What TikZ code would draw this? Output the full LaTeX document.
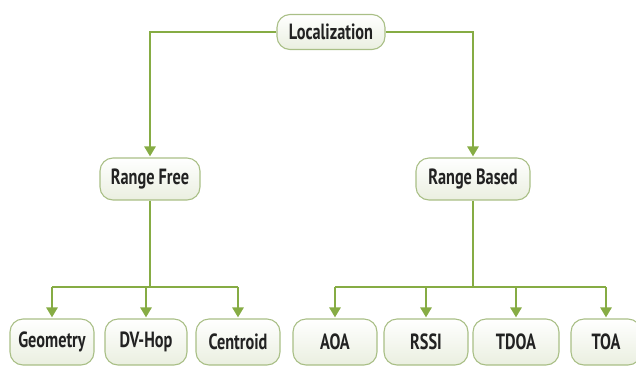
\documentclass[tikz,border=0pt]{standalone}
\usepackage{fontspec}
\setmainfont{PT Sans}[FakeStretch=0.74]
\usetikzlibrary{arrows.meta}
\definecolor{lineg}{HTML}{86AC44}
\definecolor{boxborder}{HTML}{A9BF86}
\definecolor{boxfill}{HTML}{EAEFE0}
\definecolor{txt}{HTML}{222222}
\tikzset{
  px/.style={x=1pt,y=-1pt},
  box/.style={draw=boxborder, line width=1.1pt, rounded corners=13pt, top color=white, bottom color=boxfill,
    text=txt, font=\bfseries\fontsize{22}{24}\selectfont, inner sep=0pt, anchor=center},
  conn/.style={draw=lineg, line width=2.6pt},
  arr/.style={draw=lineg, line width=2.6pt, -{Triangle[length=10pt,width=11pt]}, shorten >=1pt},
}
\begin{document}
\begin{tikzpicture}[px]
\useasboundingbox (0,0) rectangle (636,370);
\node[box, minimum width=108pt, minimum height=35pt] (loc) at (331,32) {Localization};
\node[box, minimum width=100pt, minimum height=42pt] (rf) at (150,179) {Range Free};
\node[box, minimum width=114pt, minimum height=42pt] (rb) at (473,179) {Range Based};
\node[box, minimum width=84pt, minimum height=46pt] (geo) at (52,342) {Geometry};
\node[box, minimum width=82pt, minimum height=46pt] (dv) at (146,342) {DV-Hop};
\node[box, minimum width=84pt, minimum height=46pt] (cen) at (238,342) {Centroid};
\node[box, minimum width=84pt, minimum height=46pt] (aoa) at (335,342) {AOA};
\node[box, minimum width=84pt, minimum height=46pt] (rssi) at (426,342) {RSSI};
\node[box, minimum width=86pt, minimum height=46pt] (tdoa) at (516,342) {TDOA};
\node[box, minimum width=70pt, minimum height=46pt] (toa) at (606,342) {TOA};
\coordinate (lc) at (150,32);
\draw[arr] (loc.west) -- (lc) -- (rf.north);
\draw[arr] (loc.east) -| (rb.north);
\coordinate (jl) at (150,287);
\coordinate (jr) at (473,287);
\draw[conn] (rf.south) -- (jl);
\draw[conn] (rb.south) -- (jr);
\draw[conn] (geo.north |- jl) -- (cen.north |- jl);
\draw[conn] (aoa.north |- jr) -- (toa.north |- jr);
\foreach \n in {geo,dv,cen}{\draw[arr] (\n.north |- jl) -- (\n.north);}
\foreach \n in {aoa,rssi,tdoa,toa}{\draw[arr] (\n.north |- jr) -- (\n.north);}
\end{tikzpicture}
\end{document}
